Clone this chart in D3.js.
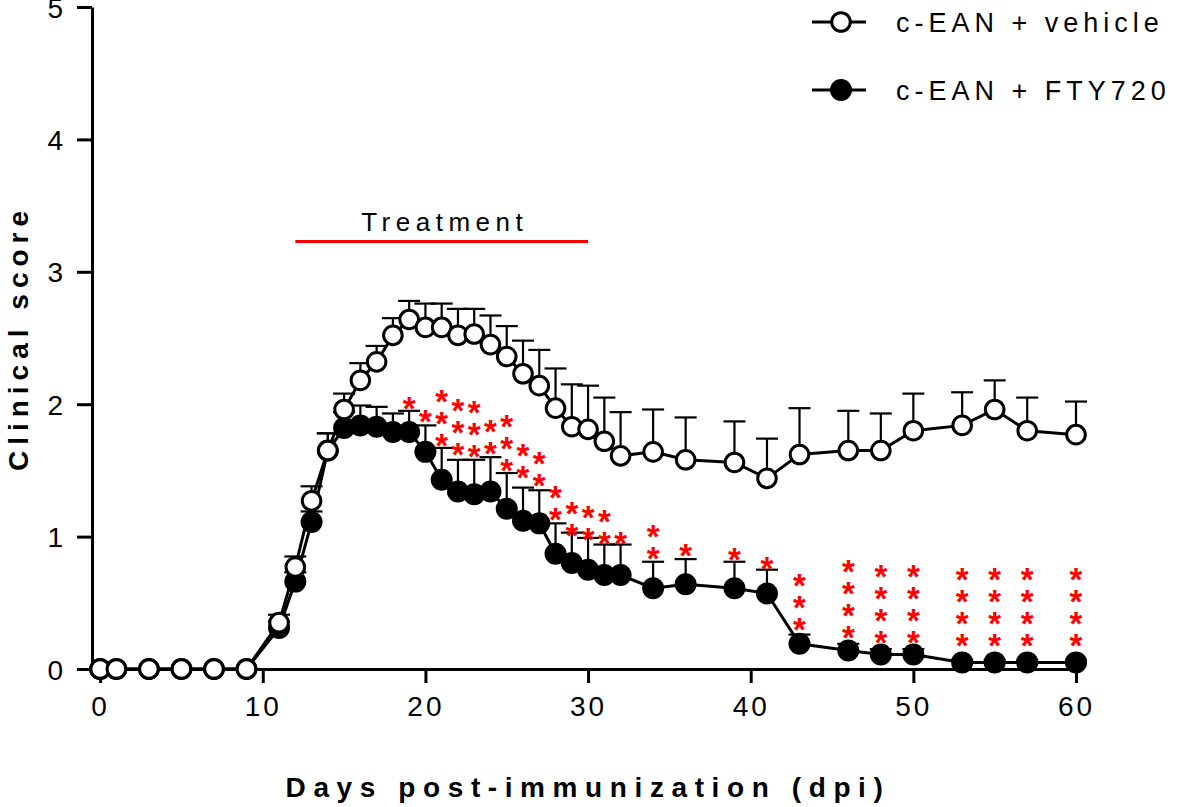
<!DOCTYPE html>
<html>
<head>
<meta charset="utf-8">
<script src="https://cdn.jsdelivr.net/npm/d3@7"></script>
<style>
  html, body { margin: 0; padding: 0; background: #fff; }
  svg { display: block; }
  text { font-family: "Liberation Sans", Arial, Helvetica, sans-serif; }
</style>
</head>
<body>
<svg id="chart" width="1181" height="807"></svg>
<script>
// ---------------- data ----------------
const days = [0,1,3,5,7,9,11,12,13,14,15,16,17,18,19,20,21,22,23,24,25,26,27,28,29,30,31,32,34,36,39,41,43,46,48,50,53,55,57,60];

const vehicle = [0,0,0,0,0,0,0.35,0.77,1.27,1.65,1.96,2.18,2.32,2.52,2.64,2.58,2.58,2.52,2.53,2.45,2.36,2.23,2.14,1.97,1.83,1.81,1.72,1.61,1.64,1.58,1.56,1.44,1.62,1.65,1.65,1.80,1.84,1.96,1.80,1.77];
const vehicleSem = [0,0,0,0,0,0,0.06,0.08,0.11,0.13,0.12,0.13,0.12,0.13,0.14,0.18,0.18,0.20,0.19,0.22,0.23,0.25,0.27,0.30,0.32,0.33,0.33,0.33,0.32,0.32,0.31,0.30,0.35,0.30,0.28,0.28,0.25,0.22,0.25,0.25];

const fty = [0,0,0,0,0,0,0.31,0.66,1.11,1.65,1.82,1.84,1.83,1.79,1.79,1.64,1.43,1.34,1.32,1.34,1.21,1.12,1.10,0.87,0.80,0.75,0.71,0.71,0.61,0.64,0.61,0.57,0.19,0.14,0.11,0.11,0.05,0.05,0.05,0.05];
const ftySem = [0,0,0,0,0,0,0.05,0.07,0.08,0.13,0.12,0.15,0.15,0.14,0.16,0.20,0.24,0.24,0.26,0.26,0.27,0.25,0.25,0.23,0.23,0.24,0.23,0.23,0.20,0.19,0.20,0.18,0.07,0.05,0.04,0.04,0.02,0.02,0.02,0.02];

// significance asterisks: day, number of stars, score level of the lowest star
const starDays   = [19,20,21,22,23,24,25,26,27,28,29,30,31,32,34,36,39,41,43,46,48,50,53,55,57,60];
const starCounts = [1,1,3,3,3,2,3,2,2,2,2,2,2,1,2,1,1,1,3,4,4,4,4,4,4,4];
const starBase   = [2.02,1.92,1.74,1.67,1.66,1.68,1.55,1.50,1.44,1.18,1.06,1.03,1.00,1.00,0.89,0.91,0.88,0.81,0.35,0.29,0.25,0.25,0.23,0.23,0.23,0.23];

const treatment = [12, 30];
const xTicks = [0,10,20,30,40,50,60];
const yTicks = [0,1,2,3,4,5];
const seriesNames = ["c-EAN + vehicle", "c-EAN + FTY720"];

// ---------------- layout ----------------
const svg = d3.select("#chart");
const x = d3.scaleLinear().domain([-0.5, 60]).range([92, 1076]);
const y = d3.scaleLinear().domain([0, 5]).range([669, 7]);

const tickFont = 28;

// axes
const yAxis = svg.append("g").attr("transform", `translate(${x(-0.5)},0)`)
  .call(d3.axisLeft(y).tickValues(yTicks).tickSize(15).tickSizeOuter(0).tickPadding(11).tickFormat(d3.format("d")));
const xAxis = svg.append("g").attr("transform", `translate(0,${y(0)})`)
  .call(d3.axisBottom(x).tickValues(xTicks).tickSize(14).tickSizeOuter(0).tickPadding(13).tickFormat(d3.format("d")));
[yAxis, xAxis].forEach(g => {
  g.select(".domain").attr("stroke", "#000").attr("stroke-width", 3);
  g.selectAll(".tick line").attr("stroke", "#000").attr("stroke-width", 3);
  g.selectAll(".tick text").attr("fill", "#000").style("font-size", tickFont + "px")
    .style("font-family", '"Liberation Sans", Arial, sans-serif').style("letter-spacing", "3px");
});
yAxis.selectAll(".tick text").attr("dy", "0.36em");

// axis titles
svg.append("text").attr("transform", `translate(28,338) rotate(-90)`)
  .attr("text-anchor", "middle").style("font-size", "28px").style("font-weight", "bold")
  .style("letter-spacing", "6px").text("Clinical score");
svg.append("text").attr("x", 588).attr("y", 797)
  .attr("text-anchor", "middle").style("font-size", "28px").style("font-weight", "bold")
  .style("letter-spacing", "7.6px").text("Days post-immunization (dpi)");

// treatment bar
svg.append("line").attr("x1", x(treatment[0])).attr("x2", x(treatment[1]))
  .attr("y1", 241.5).attr("y2", 241.5).attr("stroke", "#ff0000").attr("stroke-width", 3);
svg.append("text").attr("x", x((treatment[0] + treatment[1]) / 2) + 3).attr("y", 231)
  .attr("text-anchor", "middle").style("font-size", "26px").style("letter-spacing", "5.5px").text("Treatment");

// series
const vData = days.map((d, i) => ({ d, v: vehicle[i], e: vehicleSem[i] }));
const fData = days.map((d, i) => ({ d, v: fty[i], e: ftySem[i] }));
const line = d3.line().x(p => x(p.d)).y(p => y(p.v));
const capW = 11;

function drawErrors(data) {
  const g = svg.append("g").attr("stroke", "#000").attr("stroke-width", 2.2);
  const eb = data.filter(p => p.e > 0);
  g.selectAll(".ev").data(eb).join("line")
    .attr("x1", p => x(p.d)).attr("x2", p => x(p.d))
    .attr("y1", p => y(p.v)).attr("y2", p => y(p.v + p.e));
  g.selectAll(".ec").data(eb).join("line")
    .attr("x1", p => x(p.d) - capW).attr("x2", p => x(p.d) + capW)
    .attr("y1", p => y(p.v + p.e)).attr("y2", p => y(p.v + p.e));
}

// FTY720 (filled) first
drawErrors(fData);
svg.append("path").datum(fData).attr("d", line).attr("fill", "none").attr("stroke", "#000").attr("stroke-width", 3);
svg.append("g").selectAll("circle").data(fData).join("circle")
  .attr("cx", p => x(p.d)).attr("cy", p => y(p.v)).attr("r", 11).attr("fill", "#000");

// vehicle (open)
drawErrors(vData);
svg.append("path").datum(vData).attr("d", line).attr("fill", "none").attr("stroke", "#000").attr("stroke-width", 3);
svg.append("g").selectAll("circle").data(vData).join("circle")
  .attr("cx", p => x(p.d)).attr("cy", p => y(p.v)).attr("r", 9.3)
  .attr("fill", "#fff").attr("stroke", "#000").attr("stroke-width", 3);

// asterisks
const starFs = 33, starGap = 22;
const stars = [];
starDays.forEach((d, i) => {
  for (let k = 0; k < starCounts[i]; k++) stars.push({ d, cy: y(starBase[i]) - k * starGap });
});
svg.append("g").selectAll("text").data(stars).join("text")
  .attr("x", s => x(s.d)).attr("y", s => s.cy + starFs * 0.56)
  .attr("text-anchor", "middle").attr("fill", "#ff0000")
  .style("font-size", starFs + "px").style("font-weight", "bold").text("*");

// legend
const legend = svg.append("g");
seriesNames.forEach((name, i) => {
  const ly = 22 + i * 68;
  legend.append("line").attr("x1", 812).attr("x2", 866).attr("y1", ly).attr("y2", ly)
    .attr("stroke", "#000").attr("stroke-width", 3);
  legend.append("circle").attr("cx", 841).attr("cy", ly).attr("r", i === 0 ? 9.3 : 11)
    .attr("fill", i === 0 ? "#fff" : "#000").attr("stroke", i === 0 ? "#000" : "none").attr("stroke-width", 3);
  legend.append("text").attr("x", 896).attr("y", ly + 10).style("font-size", "27px")
    .style("letter-spacing", "5px").text(name);
});
</script>
</body>
</html>
